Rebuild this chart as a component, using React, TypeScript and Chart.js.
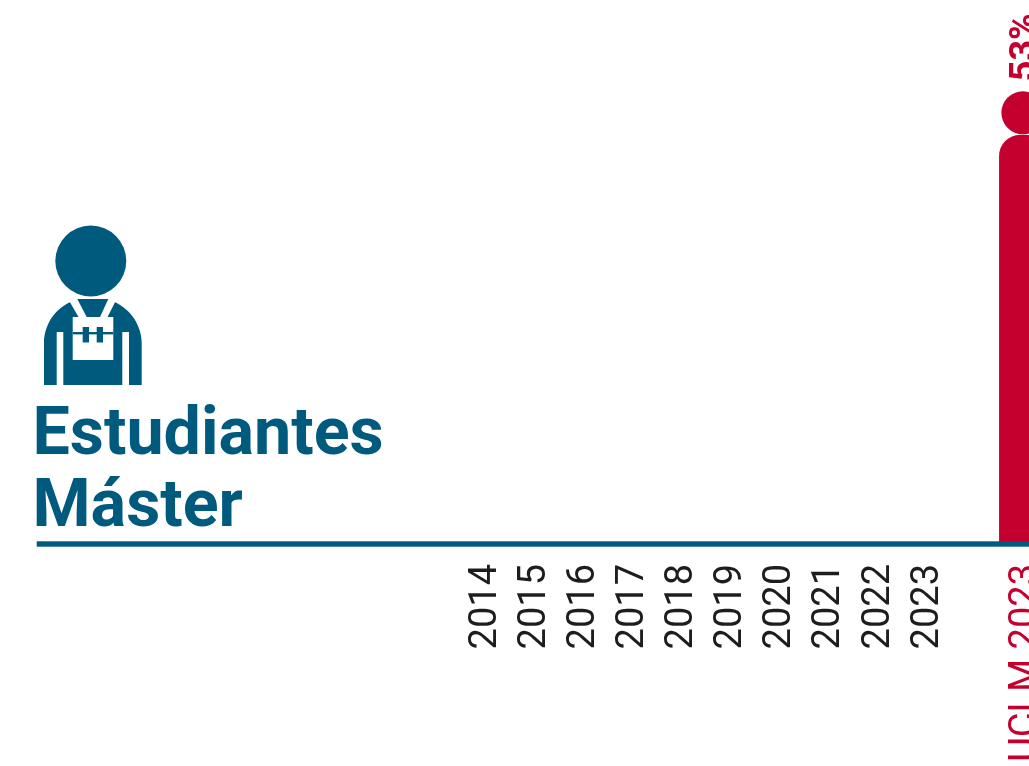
import React, { useEffect, useRef } from "react";
import { Chart, registerables } from "chart.js";

Chart.register(...registerables);

const categories = ["", "", "", "", "", "", "", "", "", "2014", "2015", "2016", "2017", "2018", "2019", "2020", "2021", "2022", "2023", "", "UCLM 2023", ""];
const barValues = [null, null, null, null, null, null, null, null, null, null, null, null, null, null, null, null, null, null, null, null, 53, null];
const headValues = [null, null, null, null, null, null, null, null, null, null, null, null, null, null, null, null, null, null, null, null, 55.9, null];
const pictogramTitle = ["Estudiantes", "Máster"];

const BLUE = "#005a7e";
const RED = "#c4002f";
const INK = "#1d1d1b";

const overlay = {
  id: "overlay",
  afterDatasetsDraw(chart: any) {
    const { ctx, scales } = chart;
    const y0 = scales.y.getPixelForValue(0);
    ctx.save();
    ctx.fillStyle = BLUE;
    ctx.fillRect(36.7, y0 - 2.7, chart.width, 5.4);
    const bars = chart.getDatasetMeta(0).data;
    const heads = chart.getDatasetMeta(1).data;
    barValues.forEach((v, i) => {
      if (v == null) return;
      ctx.save();
      ctx.translate(bars[i].x + 3.5, heads[i].y - 31.5);
      ctx.rotate(-Math.PI / 2);
      ctx.font = "700 36px Roboto";
      ctx.textAlign = "left";
      ctx.textBaseline = "middle";
      ctx.fillStyle = RED;
      ctx.fillText(`${v}%`, 0, 0);
      ctx.restore();
    });
    ctx.restore();
  },
};

function Worker() {
  return (
    <svg width={1029} height={400} style={{ position: "absolute", left: 0, top: 0 }}>
      <circle cx={90.8} cy={261} r={35.5} fill={BLUE} />
      <path fill={BLUE} d="M77.3 299 L108.3 299 L100 317 L86.7 317 Z" />
      <path
        fill={BLUE}
        fillRule="evenodd"
        d="M44 385 L44 343 C44 325 55 309 70 302.3 L78.5 317 L72.7 317 L72.7 360 L113.3 360 L113.3 317 L107.5 317 L115 302.3 C130 309 141.7 325 141.7 343 L141.7 385 L129 385 L129 332 L122.3 332 L122.3 385 L63.3 385 L63.3 332 L56.7 332 L56.7 385 Z"
      />
      <rect x={82.7} y={327} width={6.3} height={15.5} fill={BLUE} />
      <rect x={96.7} y={327} width={6.3} height={15.5} fill={BLUE} />
      <rect x={72.7} y={332} width={40.6} height={2.4} fill={BLUE} />
    </svg>
  );
}

export default function App() {
  const ref = useRef<HTMLCanvasElement>(null);
  useEffect(() => {
    const chart = new Chart(ref.current!, {
      type: "bar",
      data: {
        labels: categories,
        datasets: [
          {
            type: "bar",
            data: barValues,
            backgroundColor: RED,
            barThickness: 47,
            borderRadius: { topLeft: 21, topRight: 21, bottomLeft: 0, bottomRight: 0 },
            borderSkipped: false,
            clip: false,
          } as any,
          {
            type: "line",
            data: headValues,
            showLine: false,
            pointStyle: "circle",
            pointRadius: 21.5,
            pointBackgroundColor: RED,
            pointBorderWidth: 0,
            clip: false,
          } as any,
        ],
      },
      plugins: [overlay],
      options: {
        animation: false,
        responsive: false,
        layout: { autoPadding: false, padding: { top: 4, left: 40.8, right: 0, bottom: 0 } },
        plugins: { legend: { display: false }, tooltip: { enabled: false } },
        scales: {
          x: {
            type: "category",
            offset: false,
            position: "bottom",
            afterFit(scale: any) {
              scale.height = 356;
              scale.paddingLeft = 0;
              scale.paddingRight = 0;
            },
            grid: { display: false, drawTicks: false },
            border: { display: false },
            ticks: {
              autoSkip: false,
              minRotation: 90,
              maxRotation: 90,
              padding: 20,
              labelOffset: 3.5,
              font: { family: "Roboto", size: 38, weight: "400" },
              color: (c: any) => (categories[c.index] === "UCLM 2023" ? RED : INK),
            },
          },
          y: { display: false, min: 0, max: 70 },
        },
      } as any,
    });
    return () => chart.destroy();
  }, []);

  return (
    <div style={{ position: "absolute", left: 0, top: 0, width: 1029, height: 766, overflow: "hidden", background: "#fff" }}>
      <canvas ref={ref} width={1072} height={900} style={{ position: "absolute", left: 0, top: 0 }} />
      <Worker />
      <div
        style={{
          position: "absolute",
          left: 32.5,
          top: 395,
          fontFamily: "Roboto",
          fontWeight: 700,
          fontSize: 66.4,
          lineHeight: "72px",
          color: BLUE,
          whiteSpace: "pre",
        }}
      >
        {pictogramTitle.join("\n")}
      </div>
    </div>
  );
}
